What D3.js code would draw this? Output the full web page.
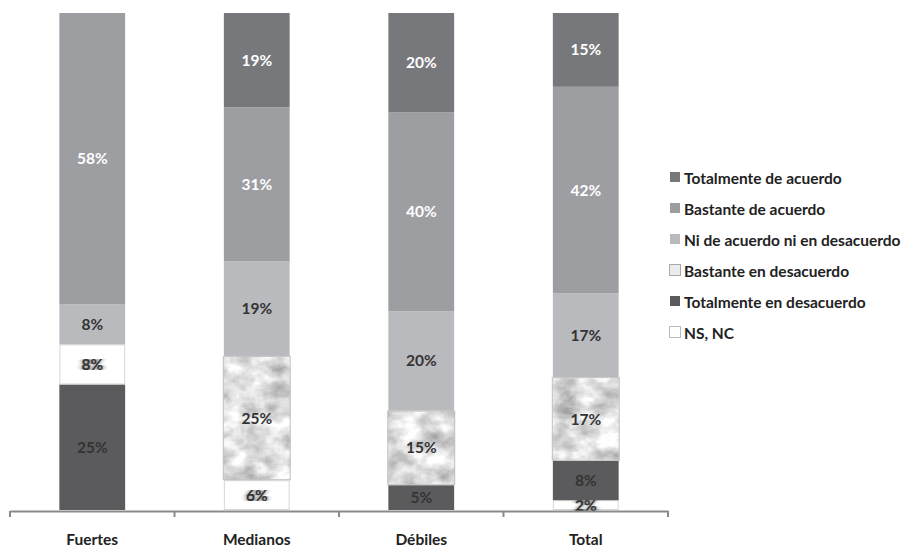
<!DOCTYPE html>
<html>
<head>
<meta charset="utf-8">
<script src="https://cdn.jsdelivr.net/npm/d3@7"></script>
<style>
  html, body { margin: 0; padding: 0; background: #fff; }
  svg { display: block; }
  text { font-family: Lato, "Open Sans", sans-serif; font-weight: 700; }
</style>
</head>
<body>
<svg id="chart" width="910" height="548"></svg>
<script>
// ---- Data ----
const categories = ["Fuertes", "Medianos", "Débiles", "Total"];
const seriesNames = [
  "NS, NC",
  "Totalmente en desacuerdo",
  "Bastante en desacuerdo",
  "Ni de acuerdo ni en desacuerdo",
  "Bastante de acuerdo",
  "Totalmente de acuerdo"
];
const nsnc                   = [0, 6, 0, 2];
const totalmenteEnDesacuerdo = [25, 0, 5, 8];
const bastanteEnDesacuerdo   = [8, 25, 15, 17];
const niNi                   = [8, 19, 20, 17];
const bastanteDeAcuerdo      = [58, 31, 40, 42];
const totalmenteDeAcuerdo    = [0, 19, 20, 15];
const seriesValues = [nsnc, totalmenteEnDesacuerdo, bastanteEnDesacuerdo, niNi, bastanteDeAcuerdo, totalmenteDeAcuerdo];

// ---- Build table ----
const table = categories.map((c, i) => {
  const row = { category: c };
  seriesNames.forEach((s, j) => row[s] = seriesValues[j][i]);
  return row;
});

const svg = d3.select("#chart");

// ---- Defs: marble texture ----
const defs = svg.append("defs");
const f = defs.append("filter").attr("id", "marble")
  .attr("color-interpolation-filters", "sRGB")
  .attr("x", 0).attr("y", 0).attr("width", 1).attr("height", 1);
f.append("feTurbulence").attr("type", "fractalNoise")
  .attr("baseFrequency", "0.045 0.06").attr("numOctaves", 5).attr("seed", 11).attr("result", "noise");
f.append("feColorMatrix").attr("in", "noise").attr("type", "matrix")
  .attr("values", "0.6 0 0 0 0.57  0.6 0 0 0 0.57  0.6 0 0 0 0.57  0 0 0 0 1").attr("result", "gray");
f.append("feComposite").attr("in", "gray").attr("in2", "SourceGraphic").attr("operator", "in");

const smear = defs.append("filter").attr("id", "smear")
  .attr("x", "-50%").attr("y", "-50%").attr("width", "200%").attr("height", "200%");
smear.append("feGaussianBlur").attr("stdDeviation", "2.6 0.5");

// ---- Scales ----
const x = d3.scaleBand().domain(categories).range([10, 668]).paddingInner(0.6).paddingOuter(0.3);
const y = d3.scaleLinear().domain([0, 1]).range([510, 13]);

const colors = {
  "NS, NC": "#ffffff",
  "Totalmente en desacuerdo": "#5b5b5d",
  "Bastante en desacuerdo": "marble",
  "Ni de acuerdo ni en desacuerdo": "#b9babd",
  "Bastante de acuerdo": "#9d9ea2",
  "Totalmente de acuerdo": "#77787c"
};
const labelColor = {
  "NS, NC": "#333",
  "Totalmente en desacuerdo": "#333",
  "Bastante en desacuerdo": "#333",
  "Ni de acuerdo ni en desacuerdo": "#333",
  "Bastante de acuerdo": "#fff",
  "Totalmente de acuerdo": "#fff"
};
// Fuertes "Bastante en desacuerdo" is drawn plain white in the original
function fillFor(key, cat) {
  if (key === "Bastante en desacuerdo" && cat === "Fuertes") return "#ffffff";
  return colors[key];
}

const stack = d3.stack().keys(seriesNames).offset(d3.stackOffsetExpand);
const layers = stack(table);

const labelSize = 15.5;
const g = svg.append("g");
layers.forEach(layer => {
  const key = layer.key;
  layer.forEach(d => {
    const cat = d.data.category;
    const v = d.data[key];
    if (!v) return;
    const x0 = x(cat), w = x.bandwidth();
    const y0 = y(d[1]), h = y(d[0]) - y(d[1]);
    const fill = fillFor(key, cat);
    if (fill === "marble") {
      g.append("rect").attr("x", x0 - 1).attr("y", y0).attr("width", w + 2).attr("height", h)
        .attr("fill", "#000").attr("filter", "url(#marble)");
      g.append("rect").attr("x", x0 - 0.5).attr("y", y0 + 0.5).attr("width", w + 1).attr("height", h - 1)
        .attr("fill", "none").attr("stroke", "#c4c4c4").attr("stroke-width", 1);
    } else if (fill === "#ffffff") {
      g.append("rect").attr("x", x0 + 0.5).attr("y", y0 + 0.5).attr("width", w - 1).attr("height", h - 1)
        .attr("fill", "#fff").attr("stroke", "#d6d6d6").attr("stroke-width", 1);
    } else {
      g.append("rect").attr("x", x0).attr("y", y0).attr("width", w).attr("height", h)
        .attr("fill", fill);
    }
    const cx = x0 + w / 2, cy = (y0 + y(d[0])) / 2;
    const txt = v + "%";
    if (fill === "#ffffff") {
      g.append("text").attr("x", cx).attr("y", cy).attr("dy", "0.36em")
        .attr("text-anchor", "middle").attr("font-size", labelSize).attr("fill", "#333")
        .attr("filter", "url(#smear)").text(txt);
    }
    g.append("text").attr("x", cx).attr("y", cy).attr("dy", "0.36em")
      .attr("text-anchor", "middle").attr("font-size", labelSize)
      .attr("fill", labelColor[key]).text(txt);
  });
});

// ---- Axis ----
const axisY = 511;
const axis = d3.axisBottom(x).tickSize(0).tickPadding(23);
const ax = svg.append("g").attr("transform", `translate(0,${axisY})`).call(axis);
ax.select(".domain").attr("stroke", "#8a8a8a").attr("stroke-width", 2);
ax.selectAll(".tick text").attr("font-size", 15.5).attr("fill", "#222")
  .attr("font-family", "Lato, 'Open Sans', sans-serif").attr("font-weight", 700);
const sepTicks = d3.range(categories.length + 1).map(i => x.range()[0] + i * x.step());
ax.selectAll(".sep").data(sepTicks).enter().append("line")
  .attr("x1", d => d).attr("x2", d => d).attr("y1", 0).attr("y2", 6)
  .attr("stroke", "#8a8a8a").attr("stroke-width", 2);

// ---- Legend ----
const legendItems = seriesNames.slice().reverse();
const lg = svg.append("g").attr("transform", "translate(669,178)");
legendItems.forEach((name, i) => {
  const row = lg.append("g").attr("transform", `translate(0,${i * 31})`);
  const c = colors[name];
  if (c === "marble") {
    row.append("rect").attr("x", 0.5).attr("y", -6.5).attr("width", 11).attr("height", 11)
      .attr("fill", "#ececec").attr("stroke", "#aaa");
  } else if (c === "#ffffff") {
    row.append("rect").attr("x", 0.5).attr("y", -6.5).attr("width", 11).attr("height", 11)
      .attr("fill", "#fff").attr("stroke", "#bbb");
  } else {
    row.append("rect").attr("x", 1).attr("y", -6).attr("width", 10).attr("height", 10).attr("fill", c);
  }
  row.append("text").attr("x", 15).attr("y", 0).attr("dy", "0.36em")
    .attr("font-size", 15.5).attr("fill", "#222").text(name);
});
</script>
</body>
</html>
